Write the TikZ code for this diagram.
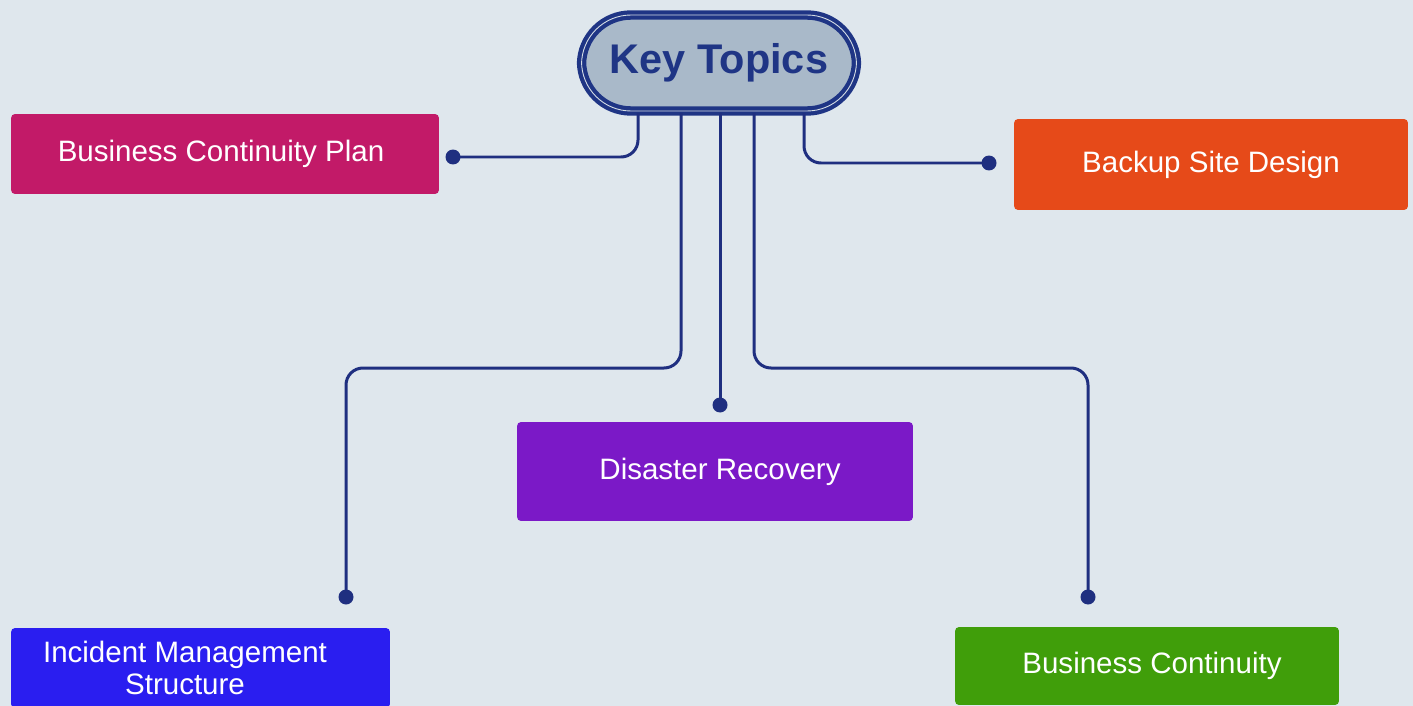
\documentclass[tikz,border=0pt]{standalone}
\usepackage{fontspec}
\setmainfont{Liberation Sans}
\definecolor{bgcol}{HTML}{DFE7ED}
\definecolor{linkblue}{HTML}{1F2F80}
\definecolor{pillfill}{HTML}{A9B9C9}
\definecolor{pillline}{HTML}{1F3585}
\definecolor{bcpcol}{HTML}{C21A68}
\definecolor{bsdcol}{HTML}{E64A19}
\definecolor{drcol}{HTML}{7B19C7}
\definecolor{imscol}{HTML}{2A1EF0}
\definecolor{bccol}{HTML}{409E0A}
\tikzset{
	topicbox/.style={rectangle,rounded corners=0.08cm,text=white,align=center,inner sep=0pt,
		font=\fontsize{16.8}{18.6}\selectfont},
	link/.style={linkblue,line width=0.06cm,rounded corners=0.34cm}
}
\begin{document}
\begin{tikzpicture}[x=0.02cm,y=-0.02cm]
	\fill[bgcol] (0,0) rectangle (1413,706);% Background
	\useasboundingbox (0,0) rectangle (1413,706);
	\clip (0,0) rectangle (1413,706);
		\coordinate (BCPdot) at (453,157);
		\coordinate (BSDdot) at (989,163);
		\coordinate (IMSdot) at (346,597);
		\coordinate (DRdot)  at (720,405);
		\coordinate (BCdot)  at (1088,597);

		\node[draw=pillline,fill=pillfill,double=pillfill!50!white,double distance=0.018cm,line width=0.085cm,
			rounded corners=0.99cm,minimum width=5.5cm,minimum height=1.92cm,text=pillline,
			font=\fontsize{23.6}{26}\selectfont\bfseries] (kt) at (719,63) {Key Topics};

		\node[topicbox,fill=bcpcol,minimum width=8.56cm,minimum height=1.6cm] (bcp) at (225,154) {Business Continuity Plan\hspace*{0.16cm}};
		\node[topicbox,fill=bsdcol,minimum width=7.88cm,minimum height=1.82cm] (bsd) at (1211,164.5) {Backup Site Design};
		\node[topicbox,fill=drcol,minimum width=7.92cm,minimum height=1.98cm] (dr) at (715,471.5) {\hspace*{0.2cm}Disaster Recovery};
		\node[topicbox,fill=imscol,minimum width=7.58cm,minimum height=1.6cm,
			label={[topicbox,xshift=-0.31cm]center:Incident Management\\Structure}] (ims) at (200.5,668) {};
		\node[topicbox,fill=bccol,minimum width=7.68cm,minimum height=1.56cm] (bc) at (1147,666) {\hspace*{0.2cm}Business Continuity};

		\draw[link] (638,0 |- kt.south) -- (638,157) -- (BCPdot);% to left box
		\draw[link] (804,0 |- kt.south) -- (804,163) -- (BSDdot);% to right box
		\draw[link] (681,0 |- kt.south) -- (681,368) -- (346,368) -- (IMSdot);
		\draw[link] (720,0 |- kt.south) -- (DRdot);
		\draw[link] (754,0 |- kt.south) -- (754,368) -- (1088,368) -- (BCdot);

		\foreach \Dot in {BCPdot,BSDdot,IMSdot,DRdot,BCdot}{\fill[linkblue] (\Dot) circle (0.15cm);}
\end{tikzpicture}
\end{document}
